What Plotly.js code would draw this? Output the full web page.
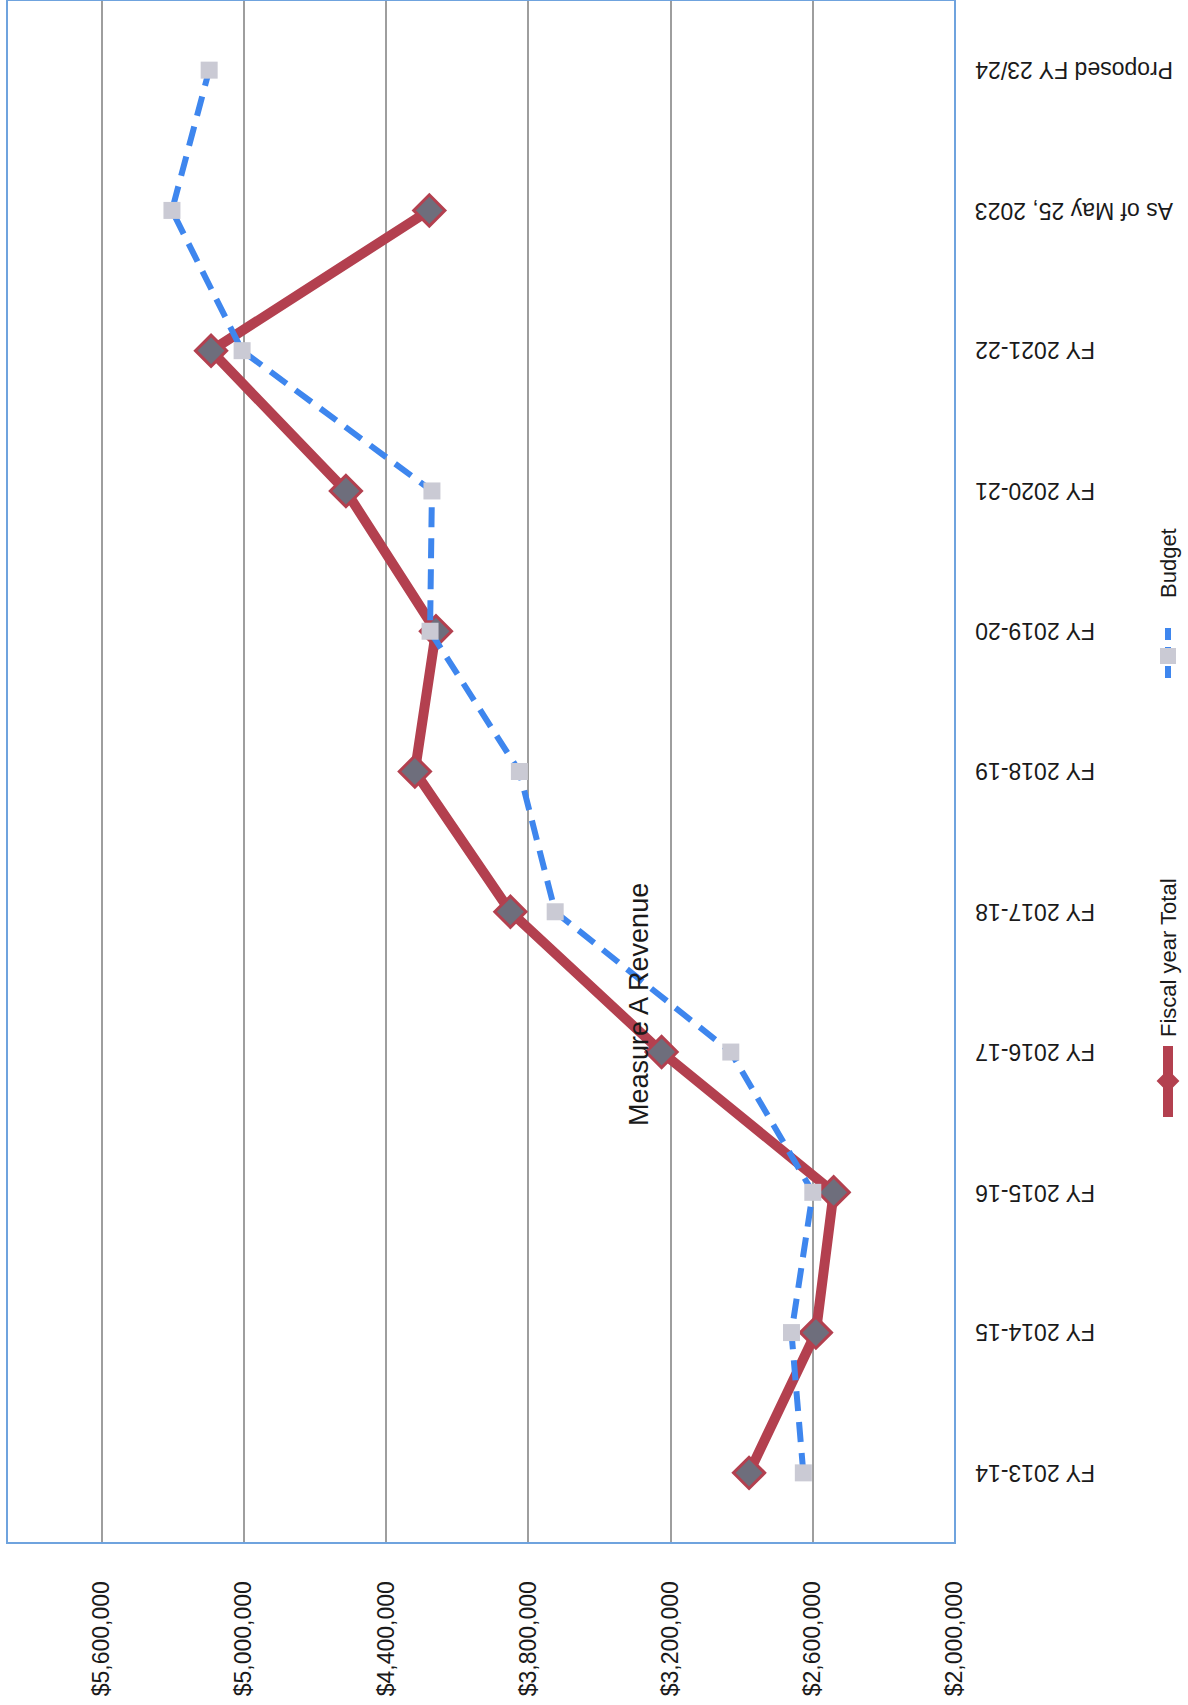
<!DOCTYPE html>
<html>
<head>
<meta charset="utf-8">
<script src="https://cdn.plot.ly/plotly-3.0.1.min.js"></script>
<style>
  html, body { margin: 0; padding: 0; background: #ffffff; }
  #chart { width: 1188px; height: 1705px; }
</style>
</head>
<body>
<div id="chart"></div>
<script>
// ---- data ----
var categories = [
  "FY 2013-14", "FY 2014-15", "FY 2015-16", "FY 2016-17", "FY 2017-18",
  "FY 2018-19", "FY 2019-20", "FY 2020-21", "FY 2021-22",
  "As of May 25, 2023", "Proposed FY 23/24"
];
var fiscalYearTotal = [2869000, 2587000, 2512000, 3238000, 3876000, 4279000,
                       4190000, 4570000, 5139000, 4218000, null];
var budget = [2640000, 2690000, 2600000, 2946000, 3687000, 3838000,
              4215000, 4207000, 5008000, 5304000, 5147000];
var valueTicks = [2000000, 2600000, 3200000, 3800000, 4400000, 5000000, 5600000];
var valueTickText = valueTicks.map(function (v) { return "$" + v.toLocaleString("en-US"); });
var chartTitle = "Measure A Revenue";
var seriesNames = ["Fiscal year Total", "Budget"];

// ---- styles ----
var RED = "#B3404F";
var BLUE = "#3E86EE";
var FONT = "Liberation Sans, Arial, sans-serif";
var TXT = "#1a1a1a";

var traces = [
  {
    type: "scatter", mode: "lines+markers", name: seriesNames[0],
    x: fiscalYearTotal, y: categories,
    line: { color: RED, width: 10 },
    marker: { symbol: "diamond", size: 24, color: "#6E6E7C", line: { color: RED, width: 3 } },
    connectgaps: false
  },
  {
    type: "scatter", mode: "lines+markers", name: seriesNames[1],
    x: budget, y: categories,
    line: { color: BLUE, width: 6, dash: "20px,11px" },
    marker: { symbol: "square", size: 17, color: "#CACAD4", line: { width: 0 } }
  }
];

// paper helpers for legend/title placement
function px(xp) { return (xp - 7) / 948; }
function py(yp) { return (1543 - yp) / 1543; }

var lx = 1168;

// category labels drawn upside-down, as in the reference
var catAnnotations = categories.map(function (c) {
  return {
    text: c, xref: "paper", yref: "y", x: px(973), y: c,
    textangle: 180, showarrow: false, xanchor: "left", yanchor: "middle",
    font: { family: FONT, size: 23, color: TXT }
  };
});

var layout = {
  width: 1188, height: 1705,
  margin: { l: 7, r: 233, t: 0, b: 162, pad: 0 },
  paper_bgcolor: "#ffffff", plot_bgcolor: "#ffffff",
  showlegend: false,
  font: { family: FONT, color: TXT, size: 22 },
  xaxis: {
    range: [6000000, 2000000],
    tickmode: "array", tickvals: valueTicks, ticktext: valueTickText,
    tickangle: -90,
    ticks: "outside", ticklen: 28, tickcolor: "rgba(0,0,0,0)",
    showgrid: true, gridcolor: "#9E9E9E", gridwidth: 2,
    zeroline: false, showline: false,
    tickfont: { family: FONT, size: 23, color: TXT },
    fixedrange: true
  },
  yaxis: {
    type: "category", categoryorder: "array", categoryarray: categories,
    range: [-0.5, 10.5],
    side: "right", showticklabels: false, ticks: "",
    showgrid: false, zeroline: false, showline: false,
    fixedrange: true
  },
  shapes: [
    // right-side axis line ($2,000,000)
    { type: "line", xref: "paper", yref: "paper", x0: 1, x1: 1, y0: 0, y1: 1,
      line: { color: "#9E9E9E", width: 2 } },
    // plot area border
    { type: "rect", xref: "paper", yref: "paper", x0: 0, x1: 1, y0: 0, y1: 1,
      line: { color: "#6FA3DE", width: 2 }, fillcolor: "rgba(0,0,0,0)" },
    // legend: Budget symbol
    { type: "line", xref: "paper", yref: "paper", x0: px(lx), x1: px(lx), y0: py(628), y1: py(684),
      line: { color: BLUE, width: 6, dash: "12px,7px" } },
    { type: "rect", xref: "paper", yref: "paper",
      x0: px(lx - 8), x1: px(lx + 8), y0: py(664), y1: py(648),
      line: { width: 0 }, fillcolor: "#CACAD4" },
    // legend: Fiscal year Total symbol
    { type: "line", xref: "paper", yref: "paper", x0: px(lx), x1: px(lx), y0: py(1046), y1: py(1117),
      line: { color: RED, width: 10 } },
    { type: "path", xref: "paper", yref: "paper",
      path: "M " + px(lx - 10) + "," + py(1081) + " L " + px(lx) + "," + py(1071) +
            " L " + px(lx + 10) + "," + py(1081) + " L " + px(lx) + "," + py(1091) + " Z",
      line: { color: RED, width: 2 }, fillcolor: RED }
  ],
  annotations: [
    { text: chartTitle, xref: "paper", yref: "paper", x: px(639), y: py(1005),
      textangle: -90, showarrow: false, xanchor: "center", yanchor: "middle",
      font: { family: FONT, size: 27, color: TXT } },
    { text: seriesNames[1], xref: "paper", yref: "paper", x: px(lx), y: py(563),
      textangle: -90, showarrow: false, xanchor: "center", yanchor: "middle",
      font: { family: FONT, size: 22, color: TXT } },
    { text: seriesNames[0], xref: "paper", yref: "paper", x: px(lx), y: py(958),
      textangle: -90, showarrow: false, xanchor: "center", yanchor: "middle",
      font: { family: FONT, size: 22, color: TXT } }
  ].concat(catAnnotations)
};

Plotly.newPlot("chart", traces, layout, { displayModeBar: false, staticPlot: true });
</script>
</body>
</html>
